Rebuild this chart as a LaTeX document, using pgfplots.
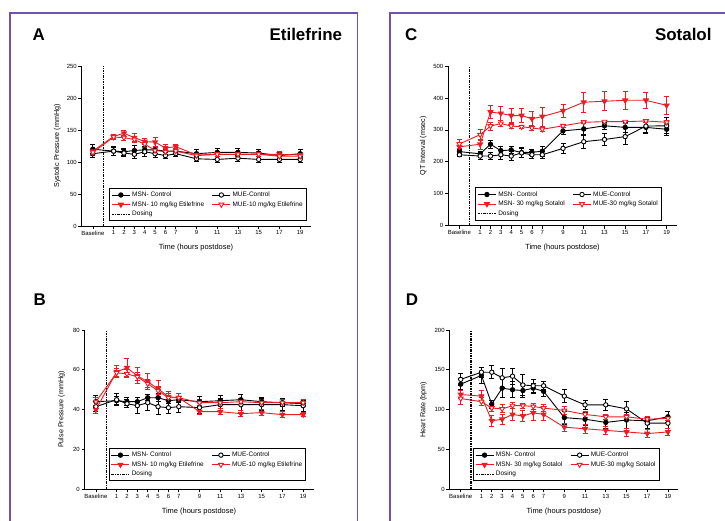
\documentclass[border=0pt]{standalone}
\usepackage{pgfplots}
\usepackage{pgfplotstable}
\pgfplotsset{compat=1.18}
\usepackage{fontspec}
\setmainfont{Liberation Sans}
\definecolor{pframe}{RGB}{112,80,176}
\definecolor{pred}{RGB}{235,28,36}

% Systolic pressure (A)
\pgfplotstableread{
x   a    ae  b    be  c    ce  d    de
-1  120  8   113  6   117  5   115  5
1   117  7   117  6   140  3   139  3
2   116  5   114  5   145  5   138  4
3   118  8   112  7   138  6   135  5
4   119  6   116  7   132  5   128  5
5   119  6   113  6   131  7   118  5
6   117  5   110  5   122  5   116  5
7   117  5   113  5   124  4   117  4
9   113  7   105  4   111  4   110  4
11  115  7   104  5   112  4   112  4
13  115  7   106  5   112  4   112  4
15  114  6   104  5   112  4   112  4
17  110  5   104  5   112  4   109  4
19  113  7   104  5   111  4   109  4
}\tabA

% Pulse pressure (B)
\pgfplotstableread{
x   a     ae   b     be   c     ce   d     de
-1  44    3    41.5  2.5  40    2    44    2
1   44.5  2    45    3    59    3    58.5  2
2   44    2    43    2    61    4.5  58    2
3   44    2    42    4    57    4    56.5  2
4   46    1.5  43.5  4    54    4    53    2
5   46    2    41.5  4    50.5  4    49.5  2
6   44.5  1.5  41    3    46.5  2.5  46    2
7   45    1.5  41.5  3    46    2    46    2
9   44    2.5  41    3    39    1.5  43.5  1.5
11  44.5  2.5  42.5  3    39    1.5  43.5  1.5
13  45    2.5  42.5  3    38    1.5  44    1.5
15  44    2    42.5  3    38.5  1.5  43.5  1.5
17  43.5  2    42.5  3    37.5  1.5  43.5  1.5
19  43    1.5  42    3    37.5  1    43.5  1.5
}\tabB

% QT interval (C)
\pgfplotstableread{
x   a    ae  b    be  c    ce  d    de
-1  232  8   222  5   247  10  256  15
1   225  8   218  10  255  15  285  17
2   255  12  218  12  356  20  312  12
3   235  12  222  15  352  22  320  10
4   237  12  218  15  345  22  312  8
5   229  15  228  15  345  22  310  5
6   230  10  222  12  335  22  306  7
7   233  15  222  10  342  30  302  6
9   297  12  242  15  360  20  313  5
11  303  18  263  20  387  32  324  5
13  313  12  270  18  390  30  326  5
15  308  15  279  25  393  28  326  5
17  308  15  312  22  393  25  328  5
19  302  18  313  25  377  28  324  5
}\tabC

% Heart rate (D)
\pgfplotstableread{
x   a    ae  b    be  c    ce  d    de
-1  132  7   138  7   119  5   114  7
1   143  10  147  6   117  7   110  5
2   107  5   147  8   86   7   102  4
3   127  12  140  12  88   6   101  5
4   125  10  142  10  94   8   105  4
5   124  8   131  13  92   7   105  3
6   127  6   130  8   96   9   104  4
7   123  6   130  5   94   8   102  4
9   90   8   117  8   78   5   99   5
11  88   8   106  6   76   6   94   4
13  84   7   106  7   74   5   91   3
15  87   10  101  9   72   5   91   3
17  86   5   83   7   70   5   88   3
19  91   7   83   6   72   4   89   3
}\tabD

\pgfplotsset{
  panel/.style={
    scale only axis, width=229bp,
    xmin=-2.1, xmax=20, ymin=0,
    axis lines=left,
    axis line style={-, line width=0.8bp},
    xtick={-1,1,2,3,4,5,6,7,9,11,13,15,17,19},
    xticklabels={Baseline,1,2,3,4,5,6,7,9,11,13,15,17,19},
    major tick length=3bp,
    tick style={line width=0.7bp, black},
    tick align=outside,
    ticklabel style={font=\fontsize{6}{7}\selectfont, inner sep=1.5bp},
    xlabel={Time (hours postdose)},
    xlabel style={at={(axis description cs:0.5,0)}, anchor=center, yshift=-22bp, font=\fontsize{7.5}{9}\selectfont},
    ylabel style={anchor=center, font=\fontsize{7.2}{8}\selectfont},
    legend columns=2,
    legend cell align=left,
    legend style={anchor=south west, draw=black, line width=0.9bp, fill=white,
      font=\fontsize{6.5}{7.5}\selectfont, inner sep=1.8bp, nodes={inner sep=1.7bp},
      /tikz/every even column/.append style={column sep=6bp}},
    legend image code/.code={\draw[mark repeat=2,mark phase=2] plot coordinates {(0bp,0bp)(9bp,0bp)(18bp,0bp)};},
    /pgf/number format/assume math mode=true,
    clip=false,
  },
  err/.style={error bars/.cd, y dir=both, y explicit, error bar style={line width=0.8bp}, error mark options={rotate=90, mark size=2.5bp, line width=0.8bp}},
  msn/.style={black, line width=0.9bp, mark=*, mark size=2.2bp, mark options={fill=black, solid}},
  mue/.style={black, line width=0.9bp, mark=*, mark size=2.2bp, mark options={fill=white, solid}},
  msnd/.style={pred, line width=0.9bp, mark=triangle*, mark size=2.8bp, mark options={fill=pred, rotate=180, solid}},
  mued/.style={pred, line width=0.9bp, mark=triangle*, mark size=2.8bp, mark options={fill=white, rotate=180, solid}},
  dosing/.style={black, line width=1.3bp, dash pattern=on 2.5bp off 1bp on 1bp off 1bp},
}

\begin{document}
\begin{tikzpicture}
\useasboundingbox (0,0) rectangle (725bp,-521bp);
\clip (0,0) rectangle (725bp,-521bp);
\fill[white] (0,0) rectangle (725bp,-521bp);
\draw[pframe, line width=1.3bp] (10bp,-13bp) rectangle (357.3bp,-540bp);
\draw[pframe, line width=1.3bp] (390bp,-13bp) rectangle (760bp,-540bp);

\node[anchor=base west, font=\bfseries\fontsize{17}{20}\selectfont, inner sep=0] at (32.3bp,-40bp) {A};
\node[anchor=base east, font=\bfseries\fontsize{17}{20}\selectfont, inner sep=0] at (342.3bp,-40bp) {Etilefrine};
\node[anchor=base west, font=\bfseries\fontsize{17}{20}\selectfont, inner sep=0] at (405bp,-40bp) {C};
\node[anchor=base east, font=\bfseries\fontsize{17}{20}\selectfont, inner sep=0] at (711.7bp,-40bp) {Sotalol};
\node[anchor=base west, font=\bfseries\fontsize{17}{20}\selectfont, inner sep=0] at (33.3bp,-305bp) {B};
\node[anchor=base west, font=\bfseries\fontsize{17}{20}\selectfont, inner sep=0] at (405.7bp,-305bp) {D};

% Panel A
\begin{axis}[panel, at={(81.5bp,-226bp)}, anchor=south west, height=160bp,
  ymax=250, ytick={0,50,100,150,200,250},
  ylabel={Systolic Pressure (mmHg)},
  ylabel style={at={(axis description cs:-0.106,0.5)}},
  legend style={at={(axis description cs:0.12,0.03)}}]
\addplot[dosing, forget plot] coordinates {(0,0) (0,250)};
\addplot[msn, err] table[x=x, y=a, y error=ae] {\tabA};
\addplot[mue, err] table[x=x, y=b, y error=be] {\tabA};
\addplot[msnd, err] table[x=x, y=c, y error=ce] {\tabA};
\addplot[mued, err] table[x=x, y=d, y error=de] {\tabA};
\addlegendimage{dosing}
\legend{MSN- Control, MUE-Control, MSN- 10 mg/kg Etilefrine, MUE-10 mg/kg Etilefrine, Dosing}
\end{axis}

% Panel B
\begin{axis}[panel, at={(84.5bp,-489.3bp)}, anchor=south west, height=159.3bp,
  ymax=80, ytick={0,20,40,60,80},
  ylabel={Pulse Pressure (mmHg)},
  ylabel style={at={(axis description cs:-0.1,0.5)}},
  legend style={at={(axis description cs:0.105,0.05)}}]
\addplot[dosing, forget plot] coordinates {(0,0) (0,80)};
\addplot[msn, err] table[x=x, y=a, y error=ae] {\tabB};
\addplot[mue, err] table[x=x, y=b, y error=be] {\tabB};
\addplot[msnd, err] table[x=x, y=c, y error=ce] {\tabB};
\addplot[mued, err] table[x=x, y=d, y error=de] {\tabB};
\addlegendimage{dosing}
\legend{MSN- Control, MUE-Control, MSN- 10 mg/kg Etilefrine, MUE-10 mg/kg Etilefrine, Dosing}
\end{axis}

% Panel C
\begin{axis}[panel, at={(448bp,-225.5bp)}, anchor=south west, height=159.3bp,
  ymax=500, ytick={0,100,200,300,400,500},
  ylabel={QT Interval (msec)},
  ylabel style={at={(axis description cs:-0.108,0.5)}},
  legend style={at={(axis description cs:0.118,0.03)}}]
\addplot[dosing, forget plot] coordinates {(0,0) (0,500)};
\addplot[msn, err] table[x=x, y=a, y error=ae] {\tabC};
\addplot[mue, err] table[x=x, y=b, y error=be] {\tabC};
\addplot[msnd, err] table[x=x, y=c, y error=ce] {\tabC};
\addplot[mued, err] table[x=x, y=d, y error=de] {\tabC};
\addlegendimage{dosing}
\legend{MSN- Control, MUE-Control, MSN- 30 mg/kg Sotalol, MUE-30 mg/kg Sotalol, Dosing}
\end{axis}

% Panel D
\begin{axis}[panel, at={(449.3bp,-489.3bp)}, anchor=south west, height=159.3bp,
  ymax=200, ytick={0,50,100,150,200},
  ylabel={Heart Rate (bpm)},
  ylabel style={at={(axis description cs:-0.113,0.5)}},
  legend style={at={(axis description cs:0.102,0.05)}}]
\addplot[dosing, forget plot] coordinates {(0,0) (0,200)};
\addplot[msn, err] table[x=x, y=a, y error=ae] {\tabD};
\addplot[mue, err] table[x=x, y=b, y error=be] {\tabD};
\addplot[msnd, err] table[x=x, y=c, y error=ce] {\tabD};
\addplot[mued, err] table[x=x, y=d, y error=de] {\tabD};
\addlegendimage{dosing}
\legend{MSN- Control, MUE-Control, MSN- 30 mg/kg Sotalol, MUE-30 mg/kg Sotalol, Dosing}
\end{axis}
\end{tikzpicture}
\end{document}
